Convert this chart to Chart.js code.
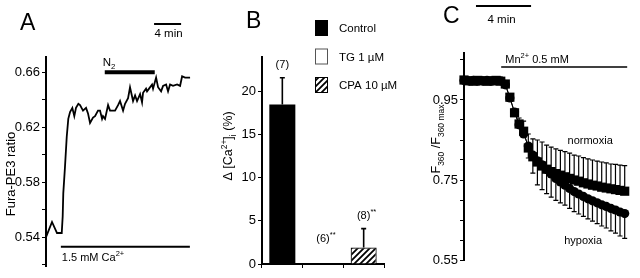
<!DOCTYPE html>
<html>
<head>
<meta charset="utf-8">
<script src="https://cdn.jsdelivr.net/npm/chart.js@4.4.1/dist/chart.umd.min.js"></script>
<style>
  html, body { margin: 0; padding: 0; background: #fff; overflow: hidden; }
  #wrap { position: relative; width: 640px; height: 278px; }
  #wrap canvas { position: absolute; top: 0; }
</style>
</head>
<body>
<div id="wrap">
  <canvas id="chartA" width="215" height="278" style="left:0"></canvas>
  <canvas id="chartB" width="200" height="278" style="left:210px"></canvas>
  <canvas id="chartC" width="210" height="278" style="left:430px"></canvas>
</div>
<script>
// ---- panel A: Fura-PE3 ratio trace (time in min) ----
const timeA = [0, 0.89, 1.63, 2.33, 2.47, 2.56, 2.81, 3.07, 3.3, 3.56, 3.9, 4.19, 4.44, 4.79, 5.04, 5.48,
  5.93, 6.22, 6.52, 6.96, 7.26, 7.7, 8.0, 8.3, 8.44, 8.74, 9.19, 9.48, 10.22, 10.67, 10.96, 11.41, 11.7,
  12.15, 12.44, 12.89, 13.19, 13.48, 13.93, 14.22, 14.37, 14.81, 14.96, 15.26, 15.7, 15.85, 16.3, 16.59,
  17.04, 17.33, 17.78, 18.07, 18.37, 18.81, 19.41, 19.85, 20.15, 20.59, 21.33];
const ratioA = [0.540, 0.551, 0.543, 0.543, 0.555, 0.572, 0.591, 0.613, 0.626, 0.631, 0.634, 0.628, 0.634, 0.637,
  0.636, 0.632, 0.634, 0.630, 0.623, 0.627, 0.628, 0.632, 0.632, 0.626, 0.628, 0.626, 0.636, 0.632, 0.632,
  0.636, 0.639, 0.632, 0.637, 0.641, 0.649, 0.639, 0.643, 0.639, 0.644, 0.638, 0.645, 0.648, 0.646, 0.648,
  0.651, 0.648, 0.656, 0.649, 0.646, 0.650, 0.651, 0.646, 0.651, 0.650, 0.651, 0.650, 0.657, 0.656, 0.656];
const ticksA = ['0.54', '0.58', '0.62', '0.66'];
const scaleBarA = [16, 20];      // 4 min
const n2Span = [8.7, 16.1];
const n2Level = 0.66;
const caSpan = [2.2, 21.3];
const caLevel = 0.533;

// ---- panel B: Δ[Ca2+]i bars ----
const categoriesB = ['Control', 'TG 1 µM', 'CPA 10 µM'];
const meanB = [18.5, 0, 1.9];
const semB = [3.1, 0, 2.2];
const countB = ['(7)', '(6)', '(8)'];
const signifB = ['', '**', '**'];

// ---- panel C: Mn2+ quench (time in min) ----
const timeC = [0, 0.33, 0.67, 1, 1.33, 1.67, 2, 2.33, 2.67, 3, 3.33, 3.67, 4, 4.33, 4.67, 5, 5.33, 5.67,
  6, 6.33, 6.67, 7, 7.33, 7.67, 8, 8.33, 8.67, 9, 9.33, 9.67, 10, 10.33, 10.67, 11, 11.33, 11.67];
const normoxia = [1.0, 0.998, 0.997, 0.999, 0.998, 0.997, 0.998, 0.999, 0.997, 0.99, 0.957, 0.918, 0.89, 0.872,
  0.83, 0.808, 0.795, 0.785, 0.777, 0.771, 0.766, 0.762, 0.758, 0.754, 0.75, 0.747, 0.743, 0.74, 0.737,
  0.735, 0.732, 0.73, 0.728, 0.726, 0.724, 0.722];
const normoxiaSem = [0, 0, 0, 0, 0, 0, 0, 0, 0, 0, 0.005, 0.01, 0.015, 0.025, 0.035, 0.045, 0.055, 0.06,
  0.06, 0.061, 0.062, 0.062, 0.063, 0.063, 0.062, 0.063, 0.063, 0.063, 0.063, 0.062, 0.063, 0.063, 0.062,
  0.063, 0.063, 0.064];
const hypoxia = [0.999, 0.998, 0.999, 0.997, 0.998, 0.999, 0.997, 0.998, 0.998, 0.988, 0.955, 0.92, 0.888,
  0.865, 0.835, 0.812, 0.798, 0.788, 0.776, 0.765, 0.754, 0.745, 0.737, 0.729, 0.721, 0.715, 0.709, 0.703,
  0.698, 0.693, 0.688, 0.684, 0.679, 0.675, 0.67, 0.666];
const hypoxiaSem = [0, 0, 0, 0, 0, 0, 0, 0, 0, 0, 0, 0, 0, 0, 0.03, 0.045, 0.06, 0.062, 0.06, 0.058, 0.055,
  0.052, 0.05, 0.05, 0.05, 0.05, 0.05, 0.05, 0.051, 0.052, 0.053, 0.054, 0.056, 0.058, 0.06, 0.062];
const ticksC = ['0.55', '0.75', '0.95'];
const scaleBarC = [0.87, 4.87];  // 4 min
const mnSpan = [2.7, 11.85];
const mnLevel = 1.0325;

const FONT = '"Liberation Sans", Arial, Helvetica, sans-serif';

// text with super/subscripts; parts are strings or {t, sup|sub}
function rich(ctx, parts, x, y, size, align) {
  const small = size * 0.68;
  const segs = parts.map(p => typeof p === 'string' ? { t: p } : Object.assign({}, p));
  segs.forEach(s => {
    ctx.font = (s.sup || s.sub ? small : size) + 'px ' + FONT;
    s.w = ctx.measureText(s.t).width;
  });
  const total = segs.reduce((a, s) => a + s.w, 0);
  let cx = align === 'center' ? x - total / 2 : x;
  ctx.textAlign = 'left';
  ctx.textBaseline = 'alphabetic';
  segs.forEach(s => {
    ctx.font = (s.sup || s.sub ? small : size) + 'px ' + FONT;
    const dy = s.sup ? -size * 0.42 : (s.sub ? size * 0.28 : 0);
    ctx.fillText(s.t, cx, y + dy);
    cx += s.w;
  });
}

function richVertical(ctx, parts, x, y, size) {
  ctx.save();
  ctx.translate(x, y);
  ctx.rotate(-Math.PI / 2);
  rich(ctx, parts, 0, size * 0.35, size, 'center');
  ctx.restore();
}

function hline(ctx, x1, x2, y, w) {
  ctx.beginPath();
  ctx.lineWidth = w;
  ctx.moveTo(x1, y);
  ctx.lineTo(x2, y);
  ctx.stroke();
}

function hatchPattern() {
  const c = document.createElement('canvas');
  c.width = 6; c.height = 6;
  const g = c.getContext('2d');
  g.fillStyle = '#fff';
  g.fillRect(0, 0, 6, 6);
  g.strokeStyle = '#000';
  g.lineWidth = 1.8;
  g.beginPath();
  for (let k = -1; k <= 1; k++) {
    g.moveTo(k * 6 - 1, 7);
    g.lineTo(k * 6 + 7, -1);
  }
  g.stroke();
  return g.createPattern(c, 'repeat');
}

function yAxis(min, max, step, width, labels) {
  return {
    min: min, max: max,
    border: { display: true, color: '#000', width: 2 },
    grid: { drawOnChartArea: false, drawTicks: true, tickLength: 4, color: '#000', lineWidth: 1 },
    ticks: {
      stepSize: step, includeBounds: false, autoSkip: false, padding: 2, color: '#000',
      font: { family: FONT, size: 13 },
      callback: v => labels === null ? v : (labels.includes(v.toFixed(2)) ? v.toFixed(2) : '')
    },
    afterFit: s => { s.width = width; }
  };
}

const common = {
  responsive: false,
  animation: false,
  devicePixelRatio: 1,
  plugins: { legend: { display: false }, tooltip: { enabled: false } }
};

// ---------- A ----------
const panelA = {
  id: 'panelA',
  afterDraw(chart) {
    const { ctx } = chart;
    const x = chart.scales.x, y = chart.scales.y;
    ctx.save();
    ctx.fillStyle = '#000';
    ctx.strokeStyle = '#000';
    rich(ctx, ['A'], 20, 30, 23);
    const s1 = x.getPixelForValue(scaleBarA[0]), s2 = x.getPixelForValue(scaleBarA[1]);
    hline(ctx, s1, s2, 24, 2);
    rich(ctx, ['4 min'], (s1 + s2) / 2 + 1, 37, 11.5, 'center');
    const ny = y.getPixelForValue(n2Level);
    hline(ctx, x.getPixelForValue(n2Span[0]), x.getPixelForValue(n2Span[1]), ny, 4);
    rich(ctx, ['N', { t: '2', sub: true }], x.getPixelForValue(n2Span[0]) - 2, ny - 6, 11.5);
    const cy = y.getPixelForValue(caLevel);
    hline(ctx, x.getPixelForValue(caSpan[0]), x.getPixelForValue(caSpan[1]), cy, 2);
    rich(ctx, ['1.5 mM Ca', { t: '2+', sup: true }], x.getPixelForValue(caSpan[0]) + 1, cy + 14, 11);
    richVertical(ctx, ['Fura-PE3 ratio'], 10, 174, 13);
    ctx.restore();
  }
};

new Chart(document.getElementById('chartA'), {
  type: 'line',
  data: {
    datasets: [{
      data: timeA.map((t, i) => ({ x: t, y: ratioA[i] })),
      borderColor: '#000', borderWidth: 1.8, pointRadius: 0, tension: 0, clip: false
    }]
  },
  options: Object.assign({}, common, {
    layout: { padding: { top: 57, bottom: 12, left: 0, right: 15 } },
    scales: {
      x: { type: 'linear', display: false, min: 0, max: 22.8 },
      y: yAxis(0.519, 0.671, 0.02, 46, ticksA)
    }
  }),
  plugins: [panelA]
});

// ---------- B ----------
const hatch = hatchPattern();
const fillsB = ['#000', '#fff', hatch];

const panelB = {
  id: 'panelB',
  afterDatasetsDraw(chart) {
    const { ctx } = chart;
    const y = chart.scales.y;
    const meta = chart.getDatasetMeta(0);
    ctx.save();
    ctx.fillStyle = '#000';
    ctx.strokeStyle = '#000';
    meta.data.forEach((bar, i) => {
      if (semB[i] > 0) {
        const y0 = y.getPixelForValue(meanB[i]);
        const y1 = y.getPixelForValue(meanB[i] + semB[i]);
        ctx.beginPath();
        ctx.lineWidth = 1.6;
        ctx.moveTo(bar.x, y0);
        ctx.lineTo(bar.x, y1);
        ctx.moveTo(bar.x - 2.5, y1);
        ctx.lineTo(bar.x + 2.5, y1);
        ctx.stroke();
      }
      const top = Math.min(y.getPixelForValue(meanB[i] + semB[i]), y.getPixelForValue(0) - 12) - 10;
      ctx.font = '11px ' + FONT;
      const w = ctx.measureText(countB[i]).width;
      rich(ctx, [countB[i], { t: signifB[i], sup: true }], bar.x - w / 2, top, 11);
    });
    ctx.restore();
  },
  afterDraw(chart) {
    const { ctx } = chart;
    ctx.save();
    ctx.fillStyle = '#000';
    rich(ctx, ['B'], 36, 28, 23);
    richVertical(ctx, ['Δ [Ca', { t: '2+', sup: true }, ']', { t: 'i', sub: true }, ' (%)'], 18, 146, 12.5);
    // legend
    categoriesB.forEach((c, i) => {
      const cy = 28 + i * 28.5;
      ctx.fillStyle = fillsB[i];
      ctx.fillRect(105, cy - 8, 13, 16);
      ctx.strokeStyle = i === 1 ? '#555' : '#000';
      ctx.lineWidth = 1;
      ctx.strokeRect(105.5, cy - 7.5, 12, 15);
      ctx.fillStyle = '#000';
      rich(ctx, [c], 129, cy + 4, 11.5);
    });
    ctx.restore();
  }
};

new Chart(document.getElementById('chartB'), {
  type: 'bar',
  data: {
    labels: categoriesB,
    datasets: [{
      data: meanB,
      backgroundColor: fillsB,
      borderColor: '#000',
      borderWidth: [0, 1, 1.2],
      borderSkipped: 'start',
      categoryPercentage: 1,
      barPercentage: 0.64
    }]
  },
  options: Object.assign({}, common, {
    layout: { padding: { top: 57, bottom: 6, left: 0, right: 26 } },
    scales: {
      x: {
        type: 'category', offset: true,
        border: { display: true, color: '#000', width: 2 },
        grid: { offset: true, drawOnChartArea: false, drawTicks: true, tickLength: 4, color: '#000' },
        ticks: { display: false },
        afterFit: s => { s.height = 8; }
      },
      y: yAxis(0, 24, 5, 52, null)
    }
  }),
  plugins: [panelB]
});

// ---------- C ----------
const panelC = {
  id: 'panelC',
  beforeDatasetsDraw(chart) {
    const { ctx } = chart;
    const x = chart.scales.x, y = chart.scales.y;
    ctx.save();
    ctx.strokeStyle = '#000';
    ctx.lineWidth = 1.2;
    ctx.beginPath();
    timeC.forEach((t, i) => {
      const px = x.getPixelForValue(t);
      if (normoxiaSem[i] > 0) {
        const a = y.getPixelForValue(normoxia[i]), b = y.getPixelForValue(normoxia[i] + normoxiaSem[i]);
        ctx.moveTo(px, a); ctx.lineTo(px, b);
        ctx.moveTo(px - 2.5, b); ctx.lineTo(px + 2.5, b);
      }
      if (hypoxiaSem[i] > 0) {
        const a = y.getPixelForValue(hypoxia[i]), b = y.getPixelForValue(hypoxia[i] - hypoxiaSem[i]);
        ctx.moveTo(px, a); ctx.lineTo(px, b);
        ctx.moveTo(px - 2.5, b); ctx.lineTo(px + 2.5, b);
      }
    });
    ctx.stroke();
    ctx.restore();
  },
  afterDraw(chart) {
    const { ctx } = chart;
    const x = chart.scales.x, y = chart.scales.y;
    ctx.save();
    ctx.fillStyle = '#000';
    ctx.strokeStyle = '#000';
    rich(ctx, ['C'], 13, 23, 23);
    const s1 = x.getPixelForValue(scaleBarC[0]), s2 = x.getPixelForValue(scaleBarC[1]);
    hline(ctx, s1, s2, 6, 2);
    rich(ctx, ['4 min'], (s1 + s2) / 2 - 2, 23, 11.5, 'center');
    const my = y.getPixelForValue(mnLevel);
    hline(ctx, x.getPixelForValue(mnSpan[0]), x.getPixelForValue(mnSpan[1]), my, 1.6);
    rich(ctx, ['Mn', { t: '2+', sup: true }, ' 0.5 mM'], x.getPixelForValue(3.0), my - 4, 11);
    rich(ctx, ['normoxia'], x.getPixelForValue(9.16), y.getPixelForValue(0.84), 11, 'center');
    rich(ctx, ['hypoxia'], x.getPixelForValue(8.65), y.getPixelForValue(0.59), 11, 'center');
    richVertical(ctx, ['F', { t: '360', sub: true }, ' /F', { t: '360 max', sub: true }], 6, 139, 12.5);
    ctx.restore();
  }
};

new Chart(document.getElementById('chartC'), {
  type: 'line',
  data: {
    datasets: [{
      label: 'normoxia',
      data: timeC.map((t, i) => ({ x: t, y: normoxia[i] })),
      borderColor: '#000', backgroundColor: '#000', borderWidth: 1,
      pointStyle: 'rect', pointRadius: 6.5, pointBorderWidth: 0, clip: false
    }, {
      label: 'hypoxia',
      data: timeC.map((t, i) => ({ x: t, y: hypoxia[i] })),
      borderColor: '#000', backgroundColor: '#000', borderWidth: 1,
      pointStyle: 'circle', pointRadius: 4.6, pointBorderWidth: 0, clip: false
    }]
  },
  options: Object.assign({}, common, {
    layout: { padding: { top: 53, bottom: 18, left: 0, right: 8 } },
    scales: {
      x: { type: 'linear', display: false, min: 0, max: 12.2 },
      y: yAxis(0.55, 1.0675, 0.05, 34, ticksC)
    }
  }),
  plugins: [panelC]
});
</script>
</body>
</html>
